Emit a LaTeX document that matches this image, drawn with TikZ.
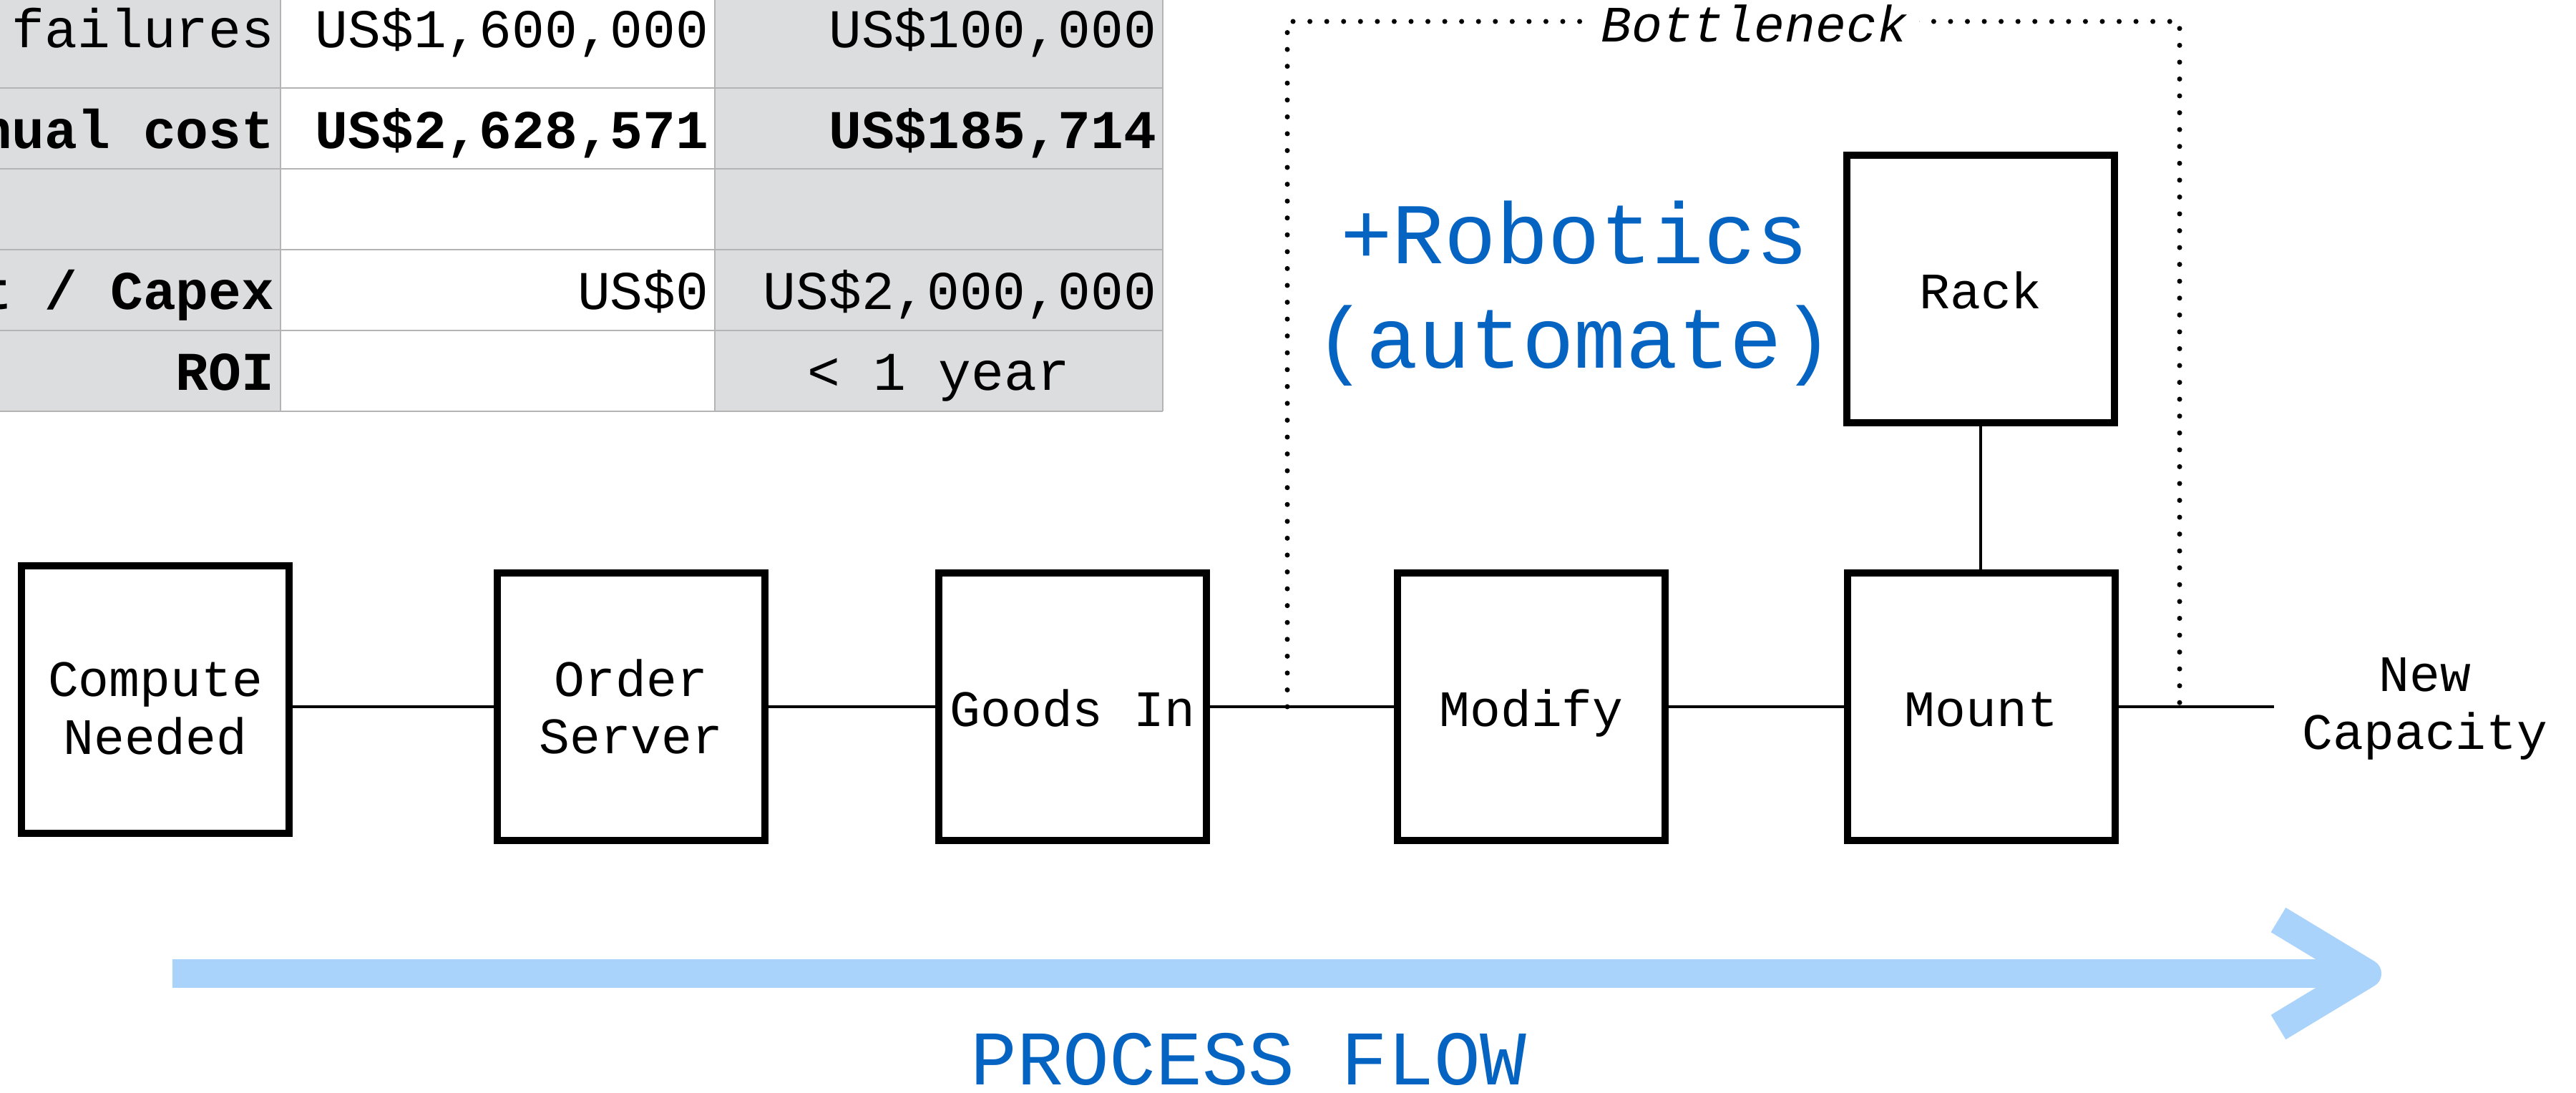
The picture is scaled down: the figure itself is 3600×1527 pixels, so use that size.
\documentclass[tikz,border=0pt]{standalone}
\usepackage{fontspec}
\setmainfont{Liberation Mono}
\usepackage{xcolor}
\usepackage{tikz}
\usetikzlibrary{positioning, calc}
\definecolor{cellgray}{HTML}{DCDDDF}
\definecolor{gridgray}{HTML}{B4B4B4}
\definecolor{robotblue}{HTML}{0563C1}
\definecolor{flowblue}{HTML}{A9D3FB}

\begin{document}
\begin{tikzpicture}[x=0.01cm, y=-0.01cm,
    stage/.style={draw, line width=2.85pt, minimum width=3.74cm, minimum height=3.74cm,
                  inner sep=0pt, align=center, font=\fontsize{20.3}{23}\selectfont},
    oneline/.style={text height=19.7pt, text depth=4.3pt},
    stagetext/.style={align=center, inner sep=0pt, font=\fontsize{20.3}{23}\selectfont},
    link/.style={line width=1.35pt},
    cell/.style={inner sep=0pt, font=\fontsize{21.7}{26}\selectfont},
    boldcell/.style={cell, font=\fontsize{21.7}{26}\selectfont\bfseries},
    dotline/.style={line width=2pt, line cap=round, dash pattern=on 0pt off 6.7pt},
    flow/.style={draw=flowblue, line width=11.4pt}]
  \useasboundingbox (0,0) rectangle (3600,1527);

  % cost table (cut off at the top left)
  \fill[cellgray] (0,-60) rectangle (392,575);
  \fill[cellgray] (999,-60) rectangle (1625,575);
  \foreach \y in {123,236,349,462,575}
    \draw[gridgray, line width=0.7pt] (0,\y) -- (1625,\y);
  \foreach \x in {392,999,1625}
    \draw[gridgray, line width=0.7pt] (\x,-60) -- (\x,575);
  \node[cell, anchor=base east] (t11) at (384,67) {failures};
  \node[cell, anchor=base east] (t12) at (991,67) {US\$1,600,000};
  \node[cell, anchor=base east] (t13) at (1617,67) {US\$100,000};
  \node[boldcell, anchor=base east] (t21) at (384,207) {nual cost};
  \node[boldcell, anchor=base east] (t22) at (991,207) {US\$2,628,571};
  \node[boldcell, anchor=base east] (t23) at (1617,207) {US\$185,714};
  \node[boldcell, anchor=base east] (t41) at (384,432) {t / Capex};
  \node[cell, anchor=base east] (t42) at (991,432) {US\$0};
  \node[cell, anchor=base east] (t43) at (1617,432) {US\$2,000,000};
  \node[boldcell, anchor=base east] (t51) at (384,545) {ROI};
  \node[cell, anchor=base] (t53) at (1312,545) {< 1 year};

  % process stages
  \node[stage] (compute) at (217,978) {};
  \node[stagetext] (computetext) at (217,991) {Compute\\Needed};
  \node[stage] (order) at (882,988) {Order\\Server};
  \node[stage, oneline] (goods) at (1499,988) {Goods In};
  \node[stage, oneline] (modify) at (2140,988) {Modify};
  \node[stage, oneline] (mount) at (2769,988) {Mount};
  \node[stage, oneline] (rack) at (2768,404) {Rack};
  \node[stagetext] (newcap) at (3389,991) {New\\Capacity};
  \coordinate (capend) at (3178,988);

  \draw[link] (compute.east |- order.west) -- (order.west);
  \draw[link] (order) -- (goods);
  \draw[link] (goods) -- (modify);
  \draw[link] (modify) -- (mount);
  \draw[link] (mount) -- (capend);
  \draw[link] (rack.south) -- (rack.south |- mount.north);

  % bottleneck frame
  \coordinate (bnleft) at (1799,988);
  \coordinate (bnright) at (3046,988);
  \draw[dotline] (bnleft) -- (bnleft |- 0,30) -- (bnright |- 0,30) -- (bnright);
  \node[fill=white, inner xsep=4.5pt, inner ysep=0pt, font=\fontsize{20.3}{23}\selectfont\itshape] (bneck) at (2452,33) {Bottleneck};
  \node[align=center, inner sep=0pt, text=robotblue, font=\fontsize{34.4}{41.5}\selectfont] (robotics) at (2200,410) {+Robotics\\(automate)};

  % process flow arrow
  \coordinate (flowstart) at (241,1361);
  \coordinate (flowtip) at (3308,1361);
  \draw[flow] (flowstart) -- (flowtip);
  \draw[flow, line join=round] ($(flowtip)+(-124,-75)$) -- (flowtip) -- ($(flowtip)+(-124,75)$);
  \node[text=robotblue, inner sep=0pt, font=\fontsize{30.7}{36}\selectfont] (flowlabel) at (1745,1481) {PROCESS FLOW};
\end{tikzpicture}
\end{document}
